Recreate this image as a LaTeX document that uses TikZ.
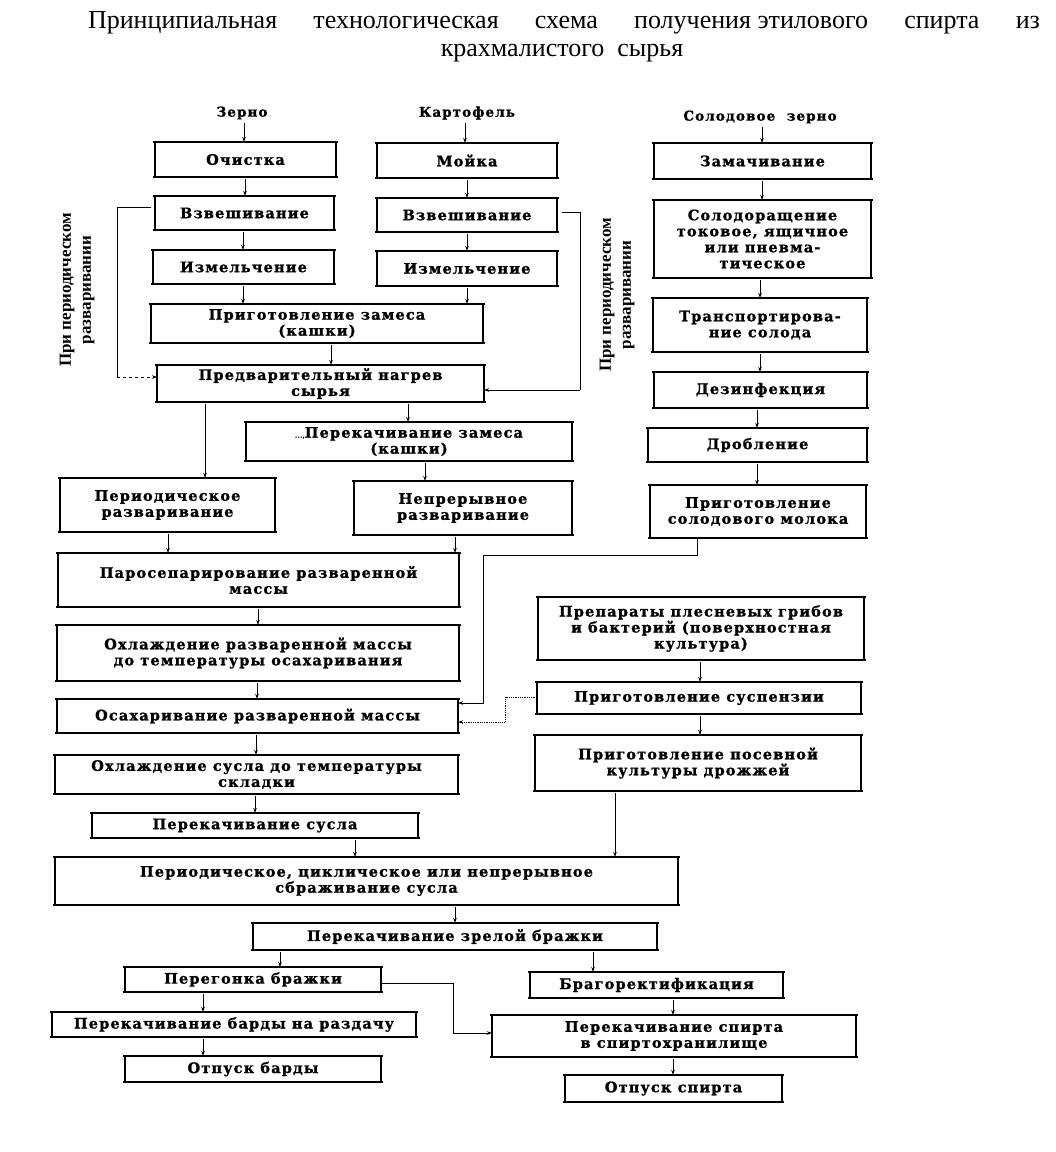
\documentclass[tikz,border=0pt]{standalone}
\usepackage{fontspec}
\setmainfont{Liberation Serif}
\newfontfamily\bxf[LetterSpace=8,BoldFeatures={FakeBold=1.2}]{DejaVu Serif}
\usetikzlibrary{arrows.meta}
\tikzset{
 box/.style={draw, line width=1.1pt, inner sep=1pt, outer sep=0pt, align=center, font=\bxf\bfseries\fontsize{14.5}{16}\selectfont},
 hline/.style={line width=1.5pt},
 arr/.style={-{Stealth[length=5pt,width=3.5pt]}, line width=0.8pt},
 ln/.style={line width=0.9pt},
 lbl/.style={font=\bxf\bfseries\fontsize{13.5}{15}\selectfont, inner sep=1pt},
 vt/.style={rotate=90, align=center, font=\bfseries\fontsize{17}{20}\selectfont},
 ttl/.style={font=\fontsize{26}{30}\selectfont, inner sep=0pt},
}
\newcommand\bx[6]{\node[box, minimum width={(#3-#2)*1pt}, minimum height={(#5-#4)*1pt}] (#1) at ({(#2+#3)/2},{(#4+#5)/2}) {#6};
\draw[hline] ([xshift=-2pt]#1.north west) -- ([xshift=2pt]#1.north east);
\draw[hline] ([xshift=-2pt]#1.south west) -- ([xshift=2pt]#1.south east);}
\newcommand\va[3]{\draw[arr, shorten <=2pt] (#1.south -| #3,0) -- (#2.north -| #3,0);}
\begin{document}
\begin{tikzpicture}[x=1pt,y=-1pt]
\useasboundingbox (0,0) rectangle (1056,1152);
% title
\node[ttl] (t1) at (564,23) {\makebox[952pt][s]{Принципиальная технологическая схема \hbox{получения этилового} спирта из}};
\node[ttl] (t2) at (562,53) {крахмалистого\ \ сырья};
% headers
\node[lbl] (zerno) at (242,113) {Зерно};
\node[lbl] (kart) at (467,113) {Картофель};
\node[lbl] (solzer) at (760,117) {Солодовое\ \ зерно};
% column 1
\bx{ochistka}{155}{336}{142}{177}{Очистка}
\bx{vzvesh1}{155}{334}{196}{230}{Взвешивание}
\bx{izmel1}{153}{334}{250}{284}{Измельчение}
\bx{zames}{151}{483}{304}{343}{Приготовление замеса\\(кашки)}
\bx{nagrev}{157}{484}{365}{402}{Предварительный нагрев\\сырья}
% column 2
\bx{moika}{377}{557}{143}{178}{Мойка}
\bx{vzvesh2}{377}{557}{198}{232}{Взвешивание}
\bx{izmel2}{377}{557}{251}{286}{Измельчение}
% column 3
\bx{zamach}{654}{871}{143}{179}{Замачивание}
\bx{solodor}{654}{871}{200}{278}{Солодоращение\\токовое, ящичное\\или пневма-\\тическое}
\bx{transp}{653}{867}{298}{352}{Транспортирова-\\ние солода}
\bx{dezinf}{654}{867}{372}{408}{Дезинфекция}
\bx{droblen}{648}{867}{428}{462}{Дробление}
\bx{moloko}{650}{866}{485}{538}{Приготовление\\солодового молока}
% middle
\bx{perzam}{246}{572}{422}{461}{{\fontsize{6}{6}\selectfont ...,}Перекачивание замеса\\(кашки)}
\bx{perrazv}{60}{275}{478}{532}{Периодическое\\разваривание}
\bx{neprazv}{354}{572}{481}{535}{Непрерывное\\разваривание}
\bx{parosep}{58}{459}{553}{607}{Паросепарирование разваренной\\массы}
\bx{ohlrazv}{57}{459}{625}{681}{Охлаждение разваренной массы\\до температуры осахаривания}
\bx{osahar}{57}{458}{699}{733}{Осахаривание разваренной массы}
\bx{ohlsusl}{55}{458}{755}{794}{Охлаждение сусла до температуры\\складки}
\bx{persusl}{92}{418}{813}{838}{Перекачивание сусла}
\bx{brozh}{55}{678}{857}{905}{Периодическое, циклическое или непрерывное\\сбраживание сусла}
\bx{zrel}{253}{657}{923}{950}{Перекачивание зрелой бражки}
\bx{peregon}{125}{381}{967}{992}{Перегонка бражки}
\bx{barda}{52}{416}{1012}{1037}{Перекачивание барды на раздачу}
\bx{otbarda}{125}{381}{1056}{1082}{Отпуск барды}
% right
\bx{prepar}{538}{864}{597}{660}{Препараты плесневых грибов\\и бактерий (поверхностная\\культура)}
\bx{suspenz}{537}{861}{682}{714}{Приготовление суспензии}
\bx{posev}{535}{861}{735}{791}{Приготовление посевной\\культуры дрожжей}
\bx{bragor}{530}{783}{972}{998}{Брагоректификация}
\bx{spirt}{492}{856}{1015}{1057}{Перекачивание спирта\\в спиртохранилище}
\bx{otspirt}{565}{782}{1075}{1102}{Отпуск спирта}
% side texts
\node[vt] (vtl) at (77,290) {При периодическом\\разваривании};
\node[vt] (vtr) at (617,295) {При периодическом\\разваривании};
% arrows
\va{zerno}{ochistka}{244}
\va{kart}{moika}{465}
\va{solzer}{zamach}{762}
\va{ochistka}{vzvesh1}{245}
\va{vzvesh1}{izmel1}{243}
\va{izmel1}{zames}{243}
\va{moika}{vzvesh2}{467}
\va{vzvesh2}{izmel2}{467}
\va{izmel2}{zames}{467}
\va{zames}{nagrev}{331}
\va{nagrev}{perrazv}{205}
\va{nagrev}{perzam}{408}
\va{perzam}{neprazv}{425}
\va{perrazv}{parosep}{168}
\va{neprazv}{parosep}{455}
\va{parosep}{ohlrazv}{258}
\va{ohlrazv}{osahar}{257}
\va{osahar}{ohlsusl}{256}
\va{ohlsusl}{persusl}{255}
\va{persusl}{brozh}{355}
\va{brozh}{zrel}{455}
\va{zrel}{peregon}{280}
\va{zrel}{bragor}{593}
\va{peregon}{barda}{203}
\va{barda}{otbarda}{203}
\va{bragor}{spirt}{673}
\va{spirt}{otspirt}{673}
\va{zamach}{solodor}{762}
\va{solodor}{transp}{760}
\va{transp}{dezinf}{760}
\va{dezinf}{droblen}{757}
\va{droblen}{moloko}{757}
\va{prepar}{suspenz}{700}
\va{suspenz}{posev}{700}
\va{posev}{brozh}{615}
% side connectors
\coordinate (lb1) at (117,207);
\coordinate (lb2) at (117,377);
\draw[ln] ([xshift=-4pt]vzvesh1.west |- lb1) -- (lb1) -- (lb2);
\draw[arr, dashed] (lb2) -- (nagrev.west |- lb2);
\coordinate (rb1) at (580,212);
\coordinate (rb2) at (580,390);
\draw[ln] ([xshift=5pt]vzvesh2.east |- rb1) -- (rb1) -- (rb2);
\draw[arr] (rb2) -- (nagrev.east |- rb2);
\coordinate (m1) at (697,555);
\coordinate (m2) at (483,555);
\coordinate (m3) at (483,703);
\draw[arr] (moloko.south -| m1) -- (m1) -- (m2) -- (m3) -- (osahar.east |- m3);
\coordinate (s1) at (505,697);
\coordinate (s2) at (505,722);
\draw[arr, densely dotted, line width=1pt] (suspenz.west |- s1) -- (s1) -- (s2) -- (osahar.east |- s2);
\coordinate (p1) at (453,983);
\coordinate (p2) at (453,1033);
\draw[arr] (peregon.east |- p1) -- (p1) -- (p2) -- (spirt.west |- p2);
\end{tikzpicture}
\end{document}
